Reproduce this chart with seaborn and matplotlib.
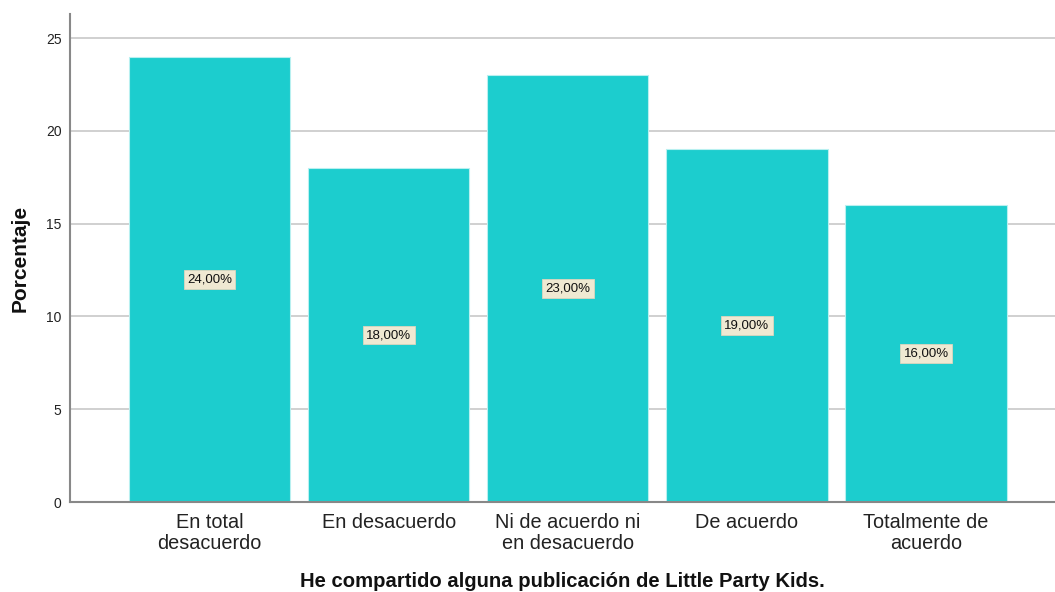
import seaborn as sns
import pandas as pd
import matplotlib
matplotlib.use('Agg')
from matplotlib import pyplot as plt

categorias = ['En total\ndesacuerdo', 'En desacuerdo', 'Ni de acuerdo ni\nen desacuerdo',
              'De acuerdo', 'Totalmente de\nacuerdo']
porcentajes = [24, 18, 23, 19, 16]
etiquetas = ['24,00%', '18,00%', '23,00%', '19,00%', '16,00%']

df = pd.DataFrame({'cat': categorias, 'pct': porcentajes})

sns.set_style('white')
plt.rcParams['font.family'] = ['Liberation Sans', 'DejaVu Sans']

fig = plt.figure(figsize=(10.55, 5.92), dpi=100)
ax = fig.add_axes([70/1055, 90/592, 985/1055, 488/592])

sns.barplot(data=df, x='cat', y='pct', color='#1ccdce', saturation=1, width=0.9,
            edgecolor='#b8f0f0', linewidth=0.8, ax=ax)

for i, (v, t) in enumerate(zip(porcentajes, etiquetas)):
    ax.text(i, v / 2, t, ha='center', va='center', fontsize=9.5, color='#111111',
            bbox=dict(boxstyle='square,pad=0.25', facecolor='#efe9d2', edgecolor='#ddd6bd', linewidth=0.6))

ax.set_xlim(-0.78, 4.72)
ax.set_ylim(0, 26.3)
ax.set_yticks([0, 5, 10, 15, 20, 25])
ax.yaxis.grid(True, color='#c8c8c8', linewidth=1.2)
ax.set_axisbelow(True)
for s in ['top', 'right']:
    ax.spines[s].set_visible(False)
for s in ['left', 'bottom']:
    ax.spines[s].set_color('#888888')
    ax.spines[s].set_linewidth(1.5)
ax.tick_params(axis='y', labelsize=10, colors='#222222', length=0, pad=6)
ax.tick_params(axis='x', labelsize=14.3, colors='#222222', length=0, pad=8)
for lbl in ax.get_xticklabels():
    lbl.set_linespacing(1.12)
ax.set_xlabel('He compartido alguna publicación de Little Party Kids.', fontsize=14.6,
              fontweight='bold', labelpad=14, color='#111111')
ax.set_ylabel('Porcentaje', fontsize=15, fontweight='bold', labelpad=12, color='#111111')

plt.savefig('out.png', dpi=100)
